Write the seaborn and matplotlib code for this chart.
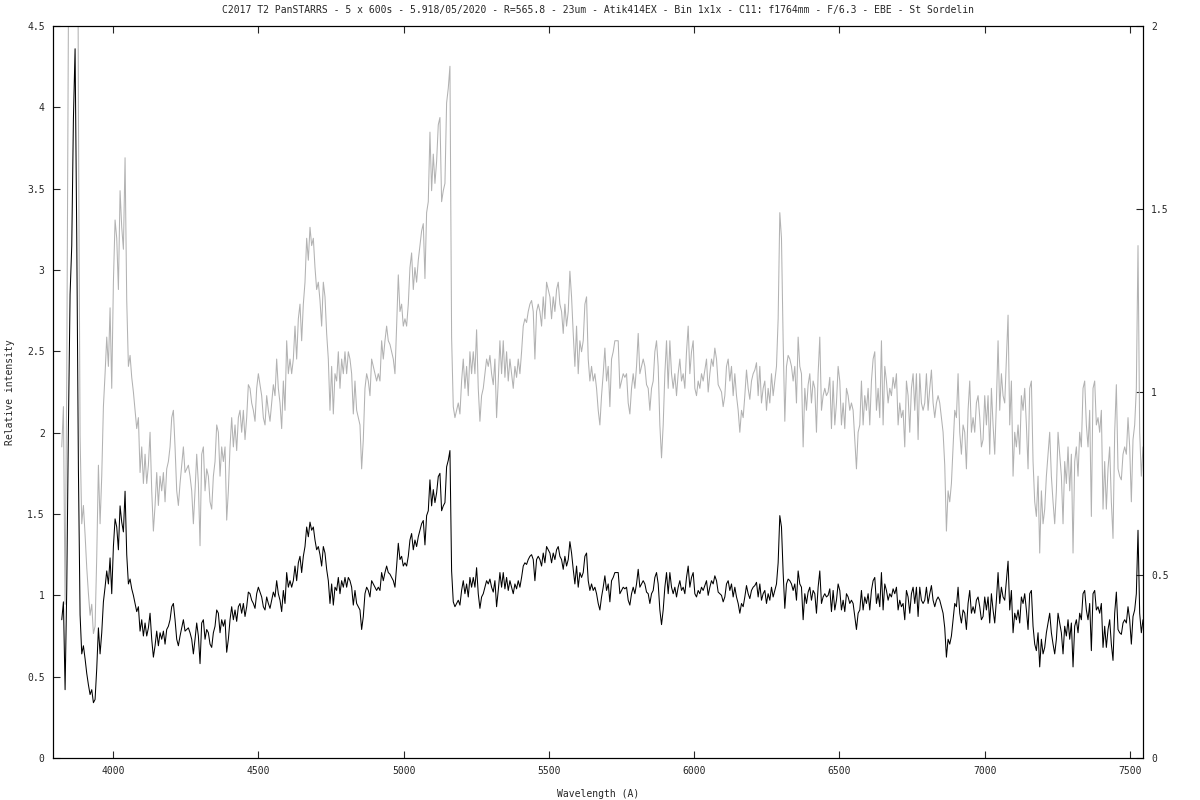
import numpy as np
import pandas as pd
import seaborn as sns
import matplotlib
matplotlib.use("Agg")
import matplotlib.pyplot as plt

# spectrum sampling (Angstrom)
wave_start = 3823.0
wave_step = 5.735

# relative intensity, in blocks of ~344 A
flux_3823 = [0.85, 0.96, 0.42, 1.04, 2.04, 2.85, 3.15, 3.93, 4.36, 3.20,
             1.77, 0.88, 0.64, 0.69, 0.61, 0.52, 0.45, 0.39, 0.42, 0.34,
             0.36, 0.55, 0.80, 0.64, 0.77, 0.96, 1.05, 1.15, 1.07, 1.23,
             1.01, 1.30, 1.47, 1.42, 1.28, 1.55, 1.45, 1.39, 1.64, 1.25,
             1.07, 1.10, 1.04, 1.00, 0.95, 0.90, 0.93, 0.78, 0.85, 0.75,
             0.83, 0.75, 0.80]
flux_4127 = [0.89, 0.73, 0.62, 0.69, 0.78, 0.69, 0.77, 0.73, 0.78, 0.70,
             0.79, 0.81, 0.85, 0.93, 0.95, 0.85, 0.73, 0.69, 0.75, 0.80,
             0.85, 0.78, 0.79, 0.80, 0.77, 0.73, 0.64, 0.73, 0.83, 0.75,
             0.58, 0.83, 0.85, 0.73, 0.79, 0.77, 0.70, 0.68, 0.77, 0.81,
             0.91, 0.89, 0.77, 0.85, 0.81, 0.85, 0.65, 0.73, 0.85, 0.93,
             0.85, 0.91, 0.84, 0.93, 0.95, 0.89, 0.95, 0.87, 0.93, 1.02]
flux_4471 = [1.01, 0.97, 0.95, 0.92, 1.01, 1.05, 1.02, 0.99, 0.93, 0.91,
             0.99, 0.95, 0.92, 0.97, 1.02, 0.99, 1.09, 1.01, 0.97, 0.90,
             1.03, 0.95, 1.14, 1.05, 1.09, 1.05, 1.09, 1.18, 1.09, 1.20,
             1.24, 1.14, 1.24, 1.30, 1.42, 1.36, 1.45, 1.40, 1.42, 1.34,
             1.28, 1.30, 1.25, 1.18, 1.30, 1.26, 1.16, 1.09, 0.95, 1.07,
             0.94, 1.05, 1.03, 1.11, 1.01, 1.09, 1.05, 1.11, 1.05, 1.11]
flux_4816 = [1.09, 1.05, 0.94, 1.03, 0.95, 0.93, 0.91, 0.79, 0.87, 1.01,
             1.05, 1.03, 0.99, 1.09, 1.07, 1.05, 1.03, 1.05, 1.03, 1.14,
             1.09, 1.14, 1.18, 1.14, 1.13, 1.11, 1.09, 1.05, 1.18, 1.32,
             1.22, 1.24, 1.18, 1.20, 1.18, 1.24, 1.34, 1.38, 1.28, 1.34,
             1.30, 1.36, 1.40, 1.44, 1.46, 1.31, 1.49, 1.52, 1.71, 1.55,
             1.65, 1.57, 1.63, 1.73, 1.75, 1.52, 1.55, 1.57, 1.79, 1.83]
flux_5160 = [1.89, 1.15, 0.96, 0.93, 0.95, 0.97, 0.94, 1.03, 1.09, 1.01,
             1.07, 0.99, 1.11, 1.05, 1.11, 1.05, 1.17, 1.01, 0.92, 0.99,
             1.01, 1.05, 1.09, 1.07, 1.10, 1.05, 1.02, 1.09, 0.93, 1.03,
             1.14, 1.05, 1.14, 1.04, 1.11, 1.03, 1.09, 1.05, 1.01, 1.07,
             1.04, 1.09, 1.05, 1.11, 1.18, 1.20, 1.19, 1.22, 1.24, 1.25,
             1.22, 1.09, 1.22, 1.24, 1.22, 1.18, 1.26, 1.20, 1.30, 1.28]
flux_5504 = [1.26, 1.20, 1.26, 1.22, 1.28, 1.30, 1.24, 1.22, 1.16, 1.24,
             1.18, 1.22, 1.33, 1.26, 1.16, 1.07, 1.18, 1.05, 1.14, 1.11,
             1.14, 1.24, 1.26, 1.09, 1.03, 1.07, 1.03, 1.05, 1.01, 0.95,
             0.91, 0.99, 1.05, 1.12, 1.03, 1.07, 0.96, 1.09, 1.11, 1.14,
             1.14, 1.14, 1.01, 1.03, 1.05, 1.04, 1.05, 0.97, 0.94, 1.01,
             1.05, 1.01, 1.07, 1.16, 1.05, 1.07, 1.09, 1.07, 1.02, 1.01]
flux_5848 = [0.95, 1.01, 1.03, 1.11, 1.14, 1.07, 0.91, 0.82, 0.91, 1.05,
             1.14, 1.01, 1.14, 1.05, 1.01, 1.05, 0.99, 1.05, 1.09, 1.03,
             1.05, 1.01, 1.11, 1.18, 1.05, 1.11, 1.14, 1.01, 0.99, 1.03,
             1.01, 1.05, 1.03, 1.06, 1.09, 1.00, 1.05, 1.09, 1.07, 1.12,
             1.09, 1.02, 1.01, 1.00, 0.96, 0.99, 1.07, 1.09, 1.03, 1.07,
             0.99, 1.05, 0.99, 0.95, 0.89, 0.95, 0.93, 0.99, 1.06, 1.01]
flux_6192 = [0.98, 1.03, 1.05, 1.06, 1.08, 0.99, 1.07, 0.97, 1.01, 1.03,
             0.95, 1.01, 0.97, 1.05, 0.99, 1.03, 1.07, 1.20, 1.49, 1.42,
             1.14, 0.92, 1.07, 1.10, 1.09, 1.07, 1.03, 1.07, 0.97, 1.15,
             1.07, 1.05, 0.85, 1.01, 0.95, 1.02, 1.05, 0.97, 1.03, 1.01,
             0.89, 1.05, 1.15, 0.95, 0.99, 1.01, 0.99, 1.00, 1.04, 0.90,
             1.03, 0.91, 0.97, 1.07, 1.03, 0.91, 0.97, 0.90, 1.01, 0.99]
flux_6536 = [0.95, 0.97, 0.95, 0.87, 0.79, 0.89, 0.91, 1.03, 0.91, 0.99,
             0.95, 1.01, 0.91, 1.03, 1.09, 1.11, 0.95, 1.01, 0.93, 1.14,
             0.91, 1.07, 1.03, 0.97, 1.01, 0.99, 1.04, 1.01, 1.05, 0.91,
             0.97, 0.93, 0.95, 0.85, 1.03, 0.99, 0.89, 1.01, 1.05, 0.95,
             1.05, 0.87, 1.05, 0.97, 0.95, 0.97, 1.05, 0.95, 1.01, 1.06,
             0.97, 0.93, 0.97, 0.99, 0.97, 0.93, 0.89, 0.80, 0.62, 0.73]
flux_6880 = [0.70, 0.75, 0.85, 0.95, 0.93, 1.05, 0.89, 0.83, 0.91, 0.89,
             0.79, 0.95, 1.03, 0.89, 0.93, 0.89, 0.97, 0.99, 0.93, 0.85,
             0.87, 0.99, 0.91, 0.99, 0.83, 1.01, 0.91, 0.83, 0.97, 1.14,
             0.95, 1.05, 0.99, 0.97, 1.09, 1.21, 0.91, 1.03, 0.77, 0.89,
             0.85, 0.91, 0.83, 0.99, 0.95, 1.01, 0.91, 0.79, 1.01, 1.03,
             0.81, 0.70, 0.66, 0.77, 0.56, 0.73, 0.64, 0.68, 0.77, 0.83]
flux_7224 = [0.89, 0.77, 0.70, 0.64, 0.73, 0.89, 0.83, 0.77, 0.64, 0.81,
             0.75, 0.85, 0.73, 0.83, 0.56, 0.81, 0.85, 0.77, 0.89, 0.85,
             1.01, 1.03, 0.91, 0.85, 0.95, 0.66, 1.01, 1.03, 0.91, 0.93,
             0.89, 0.95, 0.68, 0.81, 0.68, 0.79, 0.85, 0.70, 0.60, 0.89,
             1.02, 0.79, 0.77, 0.76, 0.83, 0.85, 0.83, 0.93, 0.85, 0.70,
             0.87, 0.91, 1.01, 1.40, 0.89, 0.77, 0.85]

flux = (flux_3823 + flux_4127 + flux_4471 + flux_4816 + flux_5160 + flux_5504
        + flux_5848 + flux_6192 + flux_6536 + flux_6880 + flux_7224)
wave = wave_start + wave_step * np.arange(len(flux))

title = ("C2017 T2 PanSTARRS - 5 x 600s - 5.918/05/2020 - R=565.8 - 23um - "
         "Atik414EX - Bin 1x1x - C11: f1764mm - F/6.3 - EBE - St Sordelin")
left_ticks = [0, 0.5, 1, 1.5, 2, 2.5, 3, 3.5, 4, 4.5]
right_ticks = [0, 0.5, 1, 1.5, 2]
x_ticks = [4000, 4500, 5000, 5500, 6000, 6500, 7000, 7500]

df = pd.DataFrame({'wave': wave, 'flux': flux})

sns.set_style("white")
plt.rcParams['font.family'] = ['DejaVu Sans Mono', 'DejaVu Sans']
fs = 7

fig = plt.figure(figsize=(12, 8), dpi=100)
ax = fig.add_axes([0.0442, 0.0525, 0.9083, 0.915])
ax2 = ax.twinx()

# grey copy on the right-hand scale (0-2), black on the left one (0-4.5)
sns.lineplot(data=df, x='wave', y='flux', ax=ax2, color='#b2b2b2', lw=0.75,
             estimator=None, sort=False)
sns.lineplot(data=df, x='wave', y='flux', ax=ax, color='black', lw=0.75,
             estimator=None, sort=False)
ax.set_zorder(ax2.get_zorder() + 1)
ax.patch.set_visible(False)

ax.set_xlim(3793, 7545)
ax.set_ylim(0, 4.5)
ax2.set_ylim(0, 2)

ax.set_xticks(x_ticks)
ax.set_xticklabels([str(t) for t in x_ticks], fontsize=fs)
ax.set_yticks(left_ticks)
ax.set_yticklabels(['%g' % t for t in left_ticks], fontsize=fs)
ax2.set_yticks(right_ticks)
ax2.set_yticklabels(['%g' % t for t in right_ticks], fontsize=fs)

ax.tick_params(axis='x', direction='in', top=True, bottom=True, length=5, width=0.8, pad=6)
ax.tick_params(axis='y', direction='in', left=True, right=False, length=5, width=0.8, pad=6)
ax2.tick_params(axis='y', direction='in', right=True, left=False, length=5, width=0.8, pad=6)

for a in (ax, ax2):
    for s in a.spines.values():
        s.set_color('black')
        s.set_linewidth(0.8)

ax.set_xlabel('Wavelength (A)', fontsize=fs)
ax.set_ylabel('Relative intensity', fontsize=fs)
ax2.set_ylabel('')
ax.xaxis.set_label_coords(0.5, -0.043)
ax.yaxis.set_label_coords(-0.035, 0.5)
ax.set_title(title, fontsize=fs, pad=9)

fig.savefig('out.png', dpi=100)
